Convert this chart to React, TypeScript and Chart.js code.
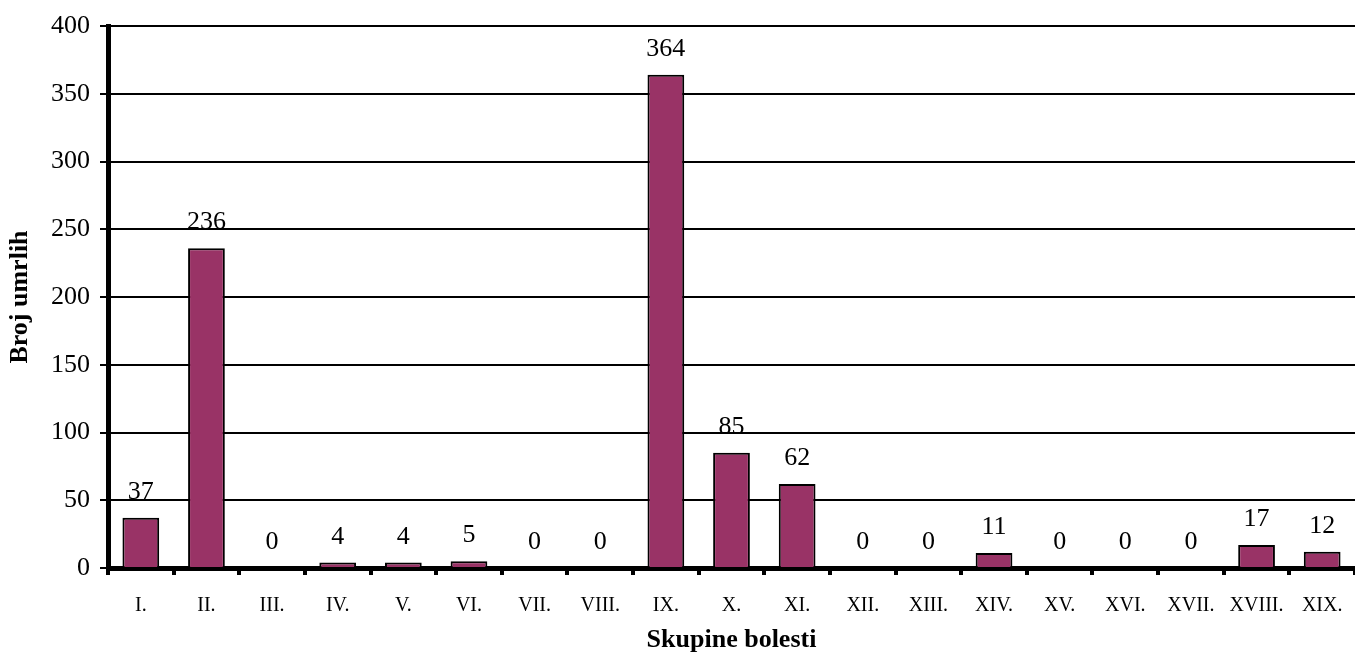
import React, { useEffect, useRef } from "react";
import { Chart, registerables } from "chart.js";

Chart.register(...registerables);

const categories = ["I.", "II.", "III.", "IV.", "V.", "VI.", "VII.", "VIII.", "IX.", "X.", "XI.", "XII.", "XIII.", "XIV.", "XV.", "XVI.", "XVII.", "XVIII.", "XIX."];
const deaths = [37, 236, 0, 4, 4, 5, 0, 0, 364, 85, 62, 0, 0, 11, 0, 0, 0, 17, 12];
const yTicks = [0, 50, 100, 150, 200, 250, 300, 350, 400];

const FONT = "'Liberation Serif', 'Times New Roman', serif";

const labelPlugin = {
  id: "barLabels",
  afterDatasetsDraw(chart: any) {
    const ctx = chart.ctx;
    const meta = chart.getDatasetMeta(0);
    ctx.save();
    ctx.fillStyle = "#000";
    ctx.font = `26px ${FONT}`;
    ctx.textAlign = "center";
    ctx.textBaseline = "alphabetic";
    meta.data.forEach((bar: any, i: number) => {
      ctx.fillText(String(deaths[i]), bar.x, bar.y - 19);
    });
    ctx.restore();
  },
};

export default function App() {
  const ref = useRef<HTMLCanvasElement>(null);
  useEffect(() => {
    document.body.style.margin = "0";
    const chart = new Chart(ref.current!, {
      type: "bar",
      data: {
        labels: categories,
        datasets: [
          {
            data: deaths,
            backgroundColor: "#993366",
            borderColor: "#000",
            borderWidth: 2,
            barPercentage: 0.56,
            categoryPercentage: 1,
          },
        ],
      },
      options: {
        animation: false,
        responsive: false,
        layout: { padding: { top: 26, right: 0, left: 0, bottom: 0 } },
        plugins: { legend: { display: false }, tooltip: { enabled: false } },
        scales: {
          x: {
            offset: true,
            grid: {
              offset: true,
              drawOnChartArea: false,
              color: "#000",
              lineWidth: 4,
              tickLength: 7,
            },
            border: { color: "#000", width: 5 },
            ticks: { color: "#000", font: { family: FONT, size: 20 }, padding: 19, maxRotation: 0, autoSkip: false },
            title: { display: true, text: "Skupine bolesti", color: "#000", font: { family: FONT, size: 26, weight: "bold" }, padding: { top: 14, bottom: -2 } },
            afterFit(scale: any) {
              scale.height = 86;
              scale.paddingRight = 0;
              scale.paddingLeft = 0;
            },
          },
          y: {
            min: 0,
            max: 400,
            afterBuildTicks(scale: any) { scale.ticks = yTicks.map((v) => ({ value: v })); },
            grid: { color: "#000", lineWidth: 2, tickLength: 8 },
            border: { color: "#000", width: 5 },
            ticks: { color: "#000", font: { family: FONT, size: 26 }, padding: 10 },
            title: { display: true, text: "Broj umrlih", color: "#000", font: { family: FONT, size: 26, weight: "bold" }, padding: { top: 5, bottom: 8 } },
            afterFit(scale: any) { scale.width = 108; },
          },
        },
      },
      plugins: [labelPlugin],
    });
    return () => chart.destroy();
  }, []);
  return (
    <div style={{ width: 1355, height: 654, background: "#fff" }}>
      <canvas ref={ref} width={1355} height={654} />
    </div>
  );
}
